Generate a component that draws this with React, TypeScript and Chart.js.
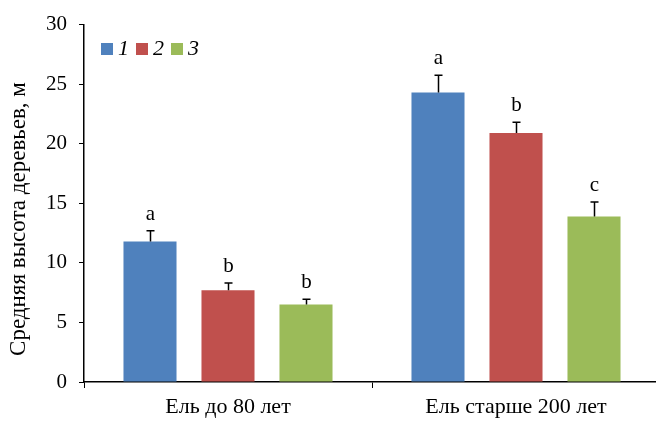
import React, { useEffect, useRef } from "react";
import { Chart, registerables } from "chart.js";

Chart.register(...registerables);

const categories = ["Ель до 80 лет", "Ель старше 200 лет"];
const seriesNames = ["1", "2", "3"];
const series1 = [11.8, 24.3];
const series2 = [7.7, 20.9];
const series3 = [6.5, 13.9];
const errors1 = [0.9, 1.45];
const errors2 = [0.6, 0.9];
const errors3 = [0.45, 1.2];
const letters1 = ["a", "a"];
const letters2 = ["b", "b"];
const letters3 = ["b", "c"];
const colors = ["#4F81BD", "#C0504D", "#9BBB59"];
const yTitle = "Средняя высота деревьев, м";
const yMin = 0;
const yMax = 30;
const yStep = 5;

const FONT = '"Liberation Serif", "Times New Roman", Times, serif';

const errorBarPlugin = {
  id: "errorBars",
  afterDatasetsDraw(chart: any) {
    const ctx = chart.ctx;
    const yScale = chart.scales.y;
    ctx.save();
    chart.data.datasets.forEach((ds: any, i: number) => {
      const meta = chart.getDatasetMeta(i);
      meta.data.forEach((bar: any, j: number) => {
        const v = ds.data[j];
        const e = ds.errors[j];
        const yTop = yScale.getPixelForValue(v + e);
        const yBar = yScale.getPixelForValue(v);
        const x = Math.round(bar.x) + 0.5;
        ctx.strokeStyle = "#000";
        ctx.lineWidth = 1.5;
        ctx.beginPath();
        ctx.moveTo(x, yBar);
        ctx.lineTo(x, yTop);
        ctx.moveTo(x - 4, yTop);
        ctx.lineTo(x + 4, yTop);
        ctx.stroke();
        ctx.fillStyle = "#000";
        ctx.font = `21px ${FONT}`;
        ctx.textAlign = "center";
        ctx.textBaseline = "alphabetic";
        ctx.fillText(ds.letters[j], x, yTop - 11);
      });
    });
    ctx.restore();
  },
};

const legendPlugin = {
  id: "customLegend",
  afterDraw(chart: any) {
    const ctx = chart.ctx;
    ctx.save();
    let x = chart.chartArea.left + 17;
    const y = 43;
    ctx.font = `italic 22px ${FONT}`;
    ctx.textBaseline = "middle";
    ctx.textAlign = "left";
    chart.data.datasets.forEach((ds: any) => {
      ctx.fillStyle = ds.backgroundColor;
      ctx.fillRect(x, y, 12, 12);
      ctx.fillStyle = "#000";
      ctx.fillText(ds.label, x + 17, y + 6);
      x += 35;
    });
    // y-axis title
    ctx.translate(18.5, 219);
    ctx.rotate(-Math.PI / 2);
    ctx.font = `23px ${FONT}`;
    ctx.textAlign = "center";
    ctx.textBaseline = "middle";
    ctx.fillText(yTitle, 0, 0);
    ctx.restore();
  },
};

export default function App() {
  const ref = useRef<HTMLCanvasElement>(null);
  useEffect(() => {
    if (!ref.current) return;
    const chart = new Chart(ref.current, {
      type: "bar",
      data: {
        labels: categories,
        datasets: [
          { label: seriesNames[0], data: series1, errors: errors1, letters: letters1, backgroundColor: colors[0] } as any,
          { label: seriesNames[1], data: series2, errors: errors2, letters: letters2, backgroundColor: colors[1] } as any,
          { label: seriesNames[2], data: series3, errors: errors3, letters: letters3, backgroundColor: colors[2] } as any,
        ],
      },
      options: {
        responsive: false,
        animation: false,
        categoryPercentage: 0.8125,
        barPercentage: 0.68,
        layout: { padding: { left: 0, right: 4, top: 20, bottom: 0 } },
        plugins: { legend: { display: false }, tooltip: { enabled: false } },
        scales: {
          x: {
            grid: { drawOnChartArea: false, drawTicks: true, tickLength: 6, color: "#000", lineWidth: 1 },
            border: { color: "#000", width: 1.5 },
            ticks: { color: "#000", font: { family: FONT, size: 22 }, padding: 6 },
            afterFit: (s: any) => { s.height = 39; },
          },
          y: {
            min: yMin,
            max: yMax,
            ticks: { stepSize: yStep, color: "#000", font: { family: FONT, size: 21 }, padding: 12 },
            grid: { drawOnChartArea: false, drawTicks: true, tickLength: 5, color: "#000", lineWidth: 1 },
            border: { color: "#000", width: 1.5 },
            title: { display: false },
            afterFit: (s: any) => { s.width = 84; },
          },
        },
      } as any,
      plugins: [errorBarPlugin, legendPlugin],
    });
    return () => chart.destroy();
  }, []);
  return (
    <div style={{ position: "fixed", left: 0, top: 0, width: 656, height: 421, overflow: "hidden", background: "#fff" }}>
      <canvas ref={ref} width={664} height={421} style={{ display: "block" }} />
    </div>
  );
}
